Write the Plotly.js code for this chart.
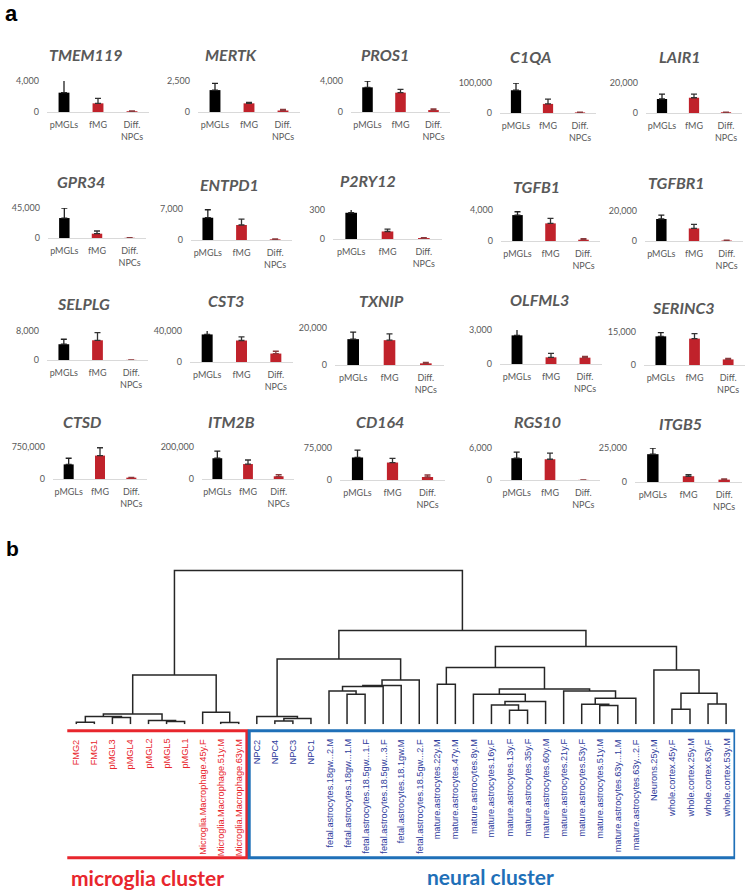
<!DOCTYPE html>
<html>
<head>
<meta charset="utf-8">
<script src="https://cdn.plot.ly/plotly-3.0.1.min.js"></script>
<style>html,body{margin:0;padding:0;background:#fff}#chart{width:754px;height:895px}</style>
</head>
<body>
<div id="chart"></div>
<script>
// ---------------- Panel a data ----------------
const genes = ['TMEM119','MERTK','PROS1','C1QA','LAIR1',
               'GPR34','ENTPD1','P2RY12','TGFB1','TGFBR1',
               'SELPLG','CST3','TXNIP','OLFML3','SERINC3',
               'CTSD','ITM2B','CD164','RGS10','ITGB5'];
const sampleGroups = ['pMGLs','fMG','Diff.<br>NPCs'];
const axisMax   = [4000,2500,4000,100000,20000, 45000,7000,300,4000,20000, 8000,40000,20000,3000,15000, 750000,200000,75000,6000,25000];
const pMGLsMean = [2500,1770,3190,76000,9350, 30000,5040,272,3350,14700, 4360,35650,14000,2530,13050, 343000,130000,52900,4100,20500];
const pMGLsErr  = [1600,540,810,24000,3300, 15000,1800,73,430,2600, 1370,6500,3800,620,1650, 144000,44000,17400,1140,4500];
const fMGMean   = [1120,700,2500,30400,10200, 6500,3390,78,2280,8400, 5450,27800,13450,590,12000, 550000,93600,41000,3900,4250];
const fMGErr    = [650,70,430,16000,2400, 4000,1350,24,640,2700, 2100,4800,3400,350,2250, 184000,25500,10000,1150,1250];
const npcMean   = [100,120,250,2000,500, 300,150,10,170,300, 30,10900,900,560,2550, 32000,17000,7100,20,1750];
const npcErr    = [40,100,150,500,100, 100,80,4,130,200, 10,3000,550,120,450, 5000,10000,4700,5,500];

// ---------------- Panel b data (dendrogram) ----------------
const leafLabels = ['FMG2','FMG1','pMGL3','pMGL4','pMGL2','pMGL5','pMGL1',
  'Microglia.Macrophage.45y.F','Microglia.Macrophage.51y.M','Microglia.Macrophage.63y.M',
  'NPC2','NPC4','NPC3','NPC1',
  'fetal.astrocytes.18gw...2.M','fetal.astrocytes.18gw...1.M','fetal.astrocytes.18.5gw...1.F',
  'fetal.astrocytes.18.5gw...3.F','fetal.astrocytes.18.1gw.M','fetal.astrocytes.18.5gw...2.F',
  'mature.astrocytes.22y.M','mature.astrocytes.47y.M','mature.astrocytes.8y.M','mature.astrocytes.16y.F',
  'mature.astrocytes.13y.F','mature.astrocytes.35y.F','mature.astrocytes.60y.M','mature.astrocytes.21y.F',
  'mature.astrocytes.53y.F','mature.astrocytes.51y.M','mature.astrocytes.63y...1.M','mature.astrocytes.63y...2.F',
  'Neurons.25y.M','whole.cortex.45y.F','whole.cortex.25y.M','whole.cortex.63y.F','whole.cortex.53y.M'];
const leafCluster = ['m','m','m','m','m','m','m','m','m','m',
  'n','n','n','n','n','n','n','n','n','n','n','n','n','n','n','n','n','n','n','n','n','n','n','n','n','n','n'];
// merges: node ids 0..36 are leaves, merge k creates node 37+k ; [left, right, height]
const mergeLeft   = [0,2,37,5,4,39,8,7,42, 11,46,10, 15,14,50,51,52,48, 20,24,23,57,22,29,28,61,27,59,55, 33,35,66,32,65,54,45];
const mergeRight  = [1,3,38,6,40,41,9,43,44, 12,13,47, 16,49,17,18,19,53, 21,25,56,26,58,30,60,31,62,63,64, 34,36,67,68,69,70,71];
const mergeHeight = [2.0,6.7,7.7,2.7,3.7,10.3,1.7,12.0,49.3, 3.3,5.7,7.7, 30.0,33.3,37.7,38.7,44.3,65.3,
                     40.0,14.0,19.3,22.7,30.0,18.7,20.0,26.0,33.3,35.3,56.7, 15.0,20.3,31.0,54.3,77.7,93.7,153.7];
const clusterNames = ['microglia cluster','neural cluster'];

// ---------------- Layout helpers ----------------
const W = 754, H = 895;
const px = v => v / W, py = v => 1 - v / H;
const panelBox = [
 [47,149,81,112],[198,300,81,112],[351,450,81,112],[500,596,83,113],[646,742,83,113],
 [48,146,208,238],[191,292,209,240],[333,442,210,239],[501,600,210,241],[645,743,211,241],
 [47,148,331,360],[190,293,331,362],[335,444,328,365],[500,602,330,364],[644,745,332,365],
 [53,147,447,479],[202,294,447,479],[340,445,448,480],[500,600,448,480],[635,742,448,482]];
const titlePos = [[85,55],[231,55],[385,55],[530,56],[680,56],[81,181],[229,184],[368,180],[536,186],[676,183],
 [83,303],[226,301],[381,300],[539,299],[683,307],[82,421],[231,421],[380,421],[537,421],[680,424]];

const GRAY = '#595959', RED = '#c0222b', BLACK = '#000000';
const tickFont = {family:'Lato, Carlito, Calibri, sans-serif', size:9, color:GRAY};

const traces = [], annotations = [], shapes = [];
const layout = {width:W, height:H, margin:{l:0,r:0,t:0,b:0}, showlegend:false, barmode:'overlay',
  paper_bgcolor:'#fff', plot_bgcolor:'rgba(0,0,0,0)', annotations, shapes};

genes.forEach((g, i) => {
  const k = i + 1, sx = k === 1 ? '' : String(k);
  const [x0,x1,yt,yb] = panelBox[i];
  const series = [
    {m:pMGLsMean[i], e:pMGLsErr[i], c:BLACK, ec:'#222', x:sampleGroups[0]},
    {m:fMGMean[i],   e:fMGErr[i],   c:RED,   ec:'#333', x:sampleGroups[1]},
    {m:npcMean[i],   e:npcErr[i],   c:RED,   ec:'#8a3a3d', x:sampleGroups[2]}];
  series.forEach(s => traces.push({type:'bar', x:[s.x], y:[s.m], width:0.32,
    xaxis:'x'+sx, yaxis:'y'+sx, marker:{color:s.c}, hoverinfo:'skip',
    error_y:{type:'data', array:[s.e], arrayminus:[0], symmetric:false, color:s.ec, thickness:1.3, width:3}}));
  layout['xaxis'+sx] = {domain:[px(x0), px(x1)], anchor:'y'+sx, type:'category',
    categoryarray:sampleGroups, categoryorder:'array', range:[-0.5,2.5], fixedrange:true,
    showline:true, linecolor:'#d9d9d9', linewidth:1, showgrid:false, zeroline:false, ticks:'',
    tickfont:tickFont, ticklabelstandoff:4};
  layout['yaxis'+sx] = {domain:[py(yb), py(yt)], anchor:'x'+sx, range:[0, axisMax[i]*1.002],
    tickvals:[0, axisMax[i]], tickformat:',d', showgrid:true, gridcolor:'#d9d9d9', gridwidth:1,
    zeroline:false, showline:false, ticks:'', tickfont:tickFont, ticklabelstandoff:7, fixedrange:true};
  annotations.push({xref:'paper', yref:'paper', x:px(titlePos[i][0]), y:py(titlePos[i][1]),
    xanchor:'center', yanchor:'middle', showarrow:false, text:'<b><i>'+g+'</i></b>',
    font:{family:'Lato, Carlito, Calibri, sans-serif', size:16, color:GRAY}});
});

// ---------------- Dendrogram ----------------
const nLeaf = leafLabels.length;
const nodeX = leafLabels.map((_, i) => i), nodeY = leafLabels.map(() => 0);
const dx = [], dy = [];
mergeLeft.forEach((a, k) => {
  const b = mergeRight[k], h = mergeHeight[k];
  dx.push(nodeX[a], nodeX[a], nodeX[b], nodeX[b], null);
  dy.push(nodeY[a], h, h, nodeY[b], null);
  nodeX.push((nodeX[a] + nodeX[b]) / 2); nodeY.push(h);
});
traces.push({type:'scatter', mode:'lines', x:dx, y:dy, xaxis:'x21', yaxis:'y21',
  line:{color:'#262626', width:1.5}, hoverinfo:'skip', connectgaps:false});
const leaf0 = 76.3, step = 18.05, leafBottom = 724.3;
layout.xaxis21 = {domain:[px(leaf0 - step/2), px(leaf0 + step*(nLeaf - 0.5))], range:[-0.5, nLeaf - 0.5],
  visible:false, anchor:'y21', fixedrange:true};
layout.yaxis21 = {domain:[py(leafBottom), py(leafBottom - 160)], range:[0, 160], visible:false, anchor:'x21', fixedrange:true};

function hasFont(name){
  const c = document.createElement('canvas').getContext('2d'), s = 'Microglia.Macrophage.63y.M';
  c.font = '20px monospace'; const w1 = c.measureText(s).width;
  c.font = '20px "' + name + '", monospace'; return Math.abs(c.measureText(s).width - w1) > 0.5;
}
const narrow = hasFont('Liberation Sans Narrow');
const labelFont = narrow ? {family:'Liberation Sans Narrow', size:11} : {family:'Liberation Sans, Arial, sans-serif', size:9.2};
const COL_M = '#e8262d', COL_N_TXT = '#2f3d9c', COL_N_BOX = '#1f70b8';
leafLabels.forEach((lab, i) => {
  annotations.push({xref:'x21', yref:'paper', x:i, y:py(737), xanchor:'center', yanchor:'top',
    textangle:-90, showarrow:false, text:lab,
    font:Object.assign({color: leafCluster[i] === 'm' ? COL_M : COL_N_TXT}, labelFont)});
});
const firstN = leafCluster.indexOf('n');
shapes.push({type:'rect', xref:'x21', yref:'paper', x0:-1.58, x1:firstN - 0.55, y0:py(857.7), y1:py(730.7),
  line:{color:COL_M, width:3}});
shapes.push({type:'rect', xref:'x21', yref:'paper', x0:firstN - 0.42, x1:nLeaf - 0.51, y0:py(857.7), y1:py(730.7),
  line:{color:COL_N_BOX, width:3}});
annotations.push({xref:'paper', yref:'paper', x:px(147), y:py(877), xanchor:'center', yanchor:'middle',
  showarrow:false, text:'<b>'+clusterNames[0]+'</b>', font:{family:'Lato, Carlito, sans-serif', size:21, color:COL_M}});
annotations.push({xref:'paper', yref:'paper', x:px(490), y:py(876), xanchor:'center', yanchor:'middle',
  showarrow:false, text:'<b>'+clusterNames[1]+'</b>', font:{family:'Lato, Carlito, sans-serif', size:21, color:COL_N_BOX}});
// panel letters
annotations.push({xref:'paper', yref:'paper', x:px(11.5), y:py(13), xanchor:'center', yanchor:'middle',
  showarrow:false, text:'<b>a</b>', font:{family:'Liberation Sans, Arial, sans-serif', size:22, color:'#000'}});
annotations.push({xref:'paper', yref:'paper', x:px(12.5), y:py(548), xanchor:'center', yanchor:'middle',
  showarrow:false, text:'<b>b</b>', font:{family:'Liberation Sans, Arial, sans-serif', size:21, color:'#000'}});

Plotly.newPlot('chart', traces, layout, {staticPlot:true, displayModeBar:false});
</script>
</body>
</html>
